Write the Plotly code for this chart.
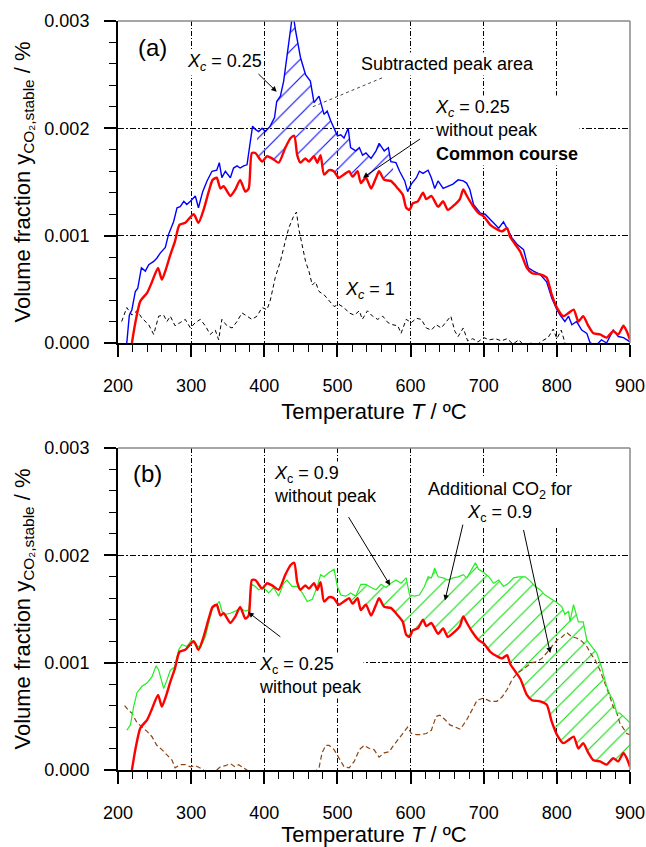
import numpy as np
import plotly.graph_objects as go

# ---------------- data ----------------
# common course: X_c = 0.25 without peak (red)
T_red = [219, 224, 230.5, 240, 246.5, 254.7, 260, 264.7, 271.5, 278, 284, 292, 303.5, 310, 317, 324, 329.4, 335,
         340, 344.5, 353.6, 360.4, 367, 374, 378.7, 383, 387.8, 397, 403.7, 410.6, 419.7, 428.8, 436, 441, 445,
         449.5, 456, 461, 468, 472.5, 477, 481.7, 488.5, 495, 502, 509, 516, 520.6, 527.5, 532, 539, 546, 552.8,
         557, 564, 573, 582.6, 589.4, 594, 598.6, 603, 610, 617, 621.5, 628.4, 637.6, 644.5, 651, 660.5, 667.4,
         672, 677, 684, 693, 700, 709, 718, 725, 732, 736, 743, 750, 759, 766, 777, 786, 793, 800, 809, 816, 823,
         829.5, 836, 843, 850, 859, 868, 877, 884, 891, 895.5, 900]
y_red = [0, 0.00020, 0.00039, 0.00047, 0.00057, 0.00070, 0.00059, 0.00067, 0.00082, 0.00095, 0.00110, 0.00112,
         0.00120, 0.00112, 0.00124, 0.00141, 0.00152, 0.00154, 0.00144, 0.00146, 0.00137, 0.00143, 0.00152,
         0.00141, 0.00144, 0.00177, 0.00177, 0.00169, 0.00174, 0.00172, 0.00168, 0.00182, 0.00191, 0.00193,
         0.00175, 0.00168, 0.00172, 0.00169, 0.00174, 0.00168, 0.00175, 0.00157, 0.00161, 0.00160, 0.00154,
         0.00157, 0.00160, 0.00155, 0.00160, 0.00149, 0.00154, 0.00144, 0.00154, 0.00160, 0.00152, 0.00151,
         0.00144, 0.00138, 0.00126, 0.00124, 0.00130, 0.00132, 0.00140, 0.00134, 0.00137, 0.00127, 0.00132,
         0.00124, 0.00129, 0.00134, 0.00143, 0.00137, 0.00129, 0.00121, 0.00118, 0.00110, 0.00106, 0.00104,
         0.00107, 0.00099, 0.00092, 0.00085, 0.00070, 0.00065, 0.00064, 0.00061, 0.00045, 0.00033, 0.00025,
         0.00028, 0.00031, 0.00020, 0.00025, 0.00016, 0.00009, 0.00008, 0.00005, 0.00011, 0.00008, 0.00016,
         0.00011, 0.00003]

# X_c = 0.25 (blue)
T_blue = [212, 215.5, 219, 223.7, 227, 232, 237.4, 242, 248.8, 253, 258, 264.7, 269, 276, 280.7, 285, 290, 294,
          299, 305.7, 310, 315.8, 321.7, 328.5, 335, 338.5, 342, 346.8, 353.6, 358, 362.7, 367, 371.8, 376.4,
          381, 384, 387.8, 392.3, 397, 401.5, 408, 414, 417, 422, 426.5, 431, 435.6, 439, 443, 449.5, 456.4,
          463, 468, 474.8, 481.7, 486, 490.8, 495.4, 500, 504.6, 509, 514.7, 518, 525, 530, 534.4, 539, 546,
          552.8, 557, 564, 569.7, 573, 580, 585, 592, 596, 601, 608, 612, 617, 624, 628.4, 633, 637.6, 644.5,
          651, 658, 665, 672, 676.6, 681, 686, 695.5, 702, 709, 716, 720.5, 727, 734, 738.6, 745.5, 754.5, 761,
          768, 777, 786, 793, 800, 804.5, 811, 816, 820.5, 827, 834, 841, 845.5, 854, 861, 868, 877, 884, 891,
          898, 900]
y_blue = [0, 0.00026, 0.00031, 0.00048, 0.00051, 0.00070, 0.00067, 0.00073, 0.00076, 0.00079, 0.00084, 0.00089,
          0.00101, 0.00113, 0.00126, 0.00127, 0.00132, 0.00129, 0.00132, 0.00137, 0.00126, 0.00141, 0.00151,
          0.00160, 0.00161, 0.00168, 0.00154, 0.00160, 0.00154, 0.00163, 0.00165, 0.00163, 0.00165, 0.00166,
          0.00188, 0.00202, 0.00199, 0.00197, 0.00200, 0.00197, 0.00202, 0.00210, 0.00225, 0.00230, 0.00244,
          0.00266, 0.00287, 0.00308, 0.00290, 0.00266, 0.00250, 0.00244, 0.00224, 0.00230, 0.00213, 0.00216,
          0.00207, 0.00200, 0.00193, 0.00194, 0.00191, 0.00200, 0.00182, 0.00179, 0.00182, 0.00175, 0.00177,
          0.00172, 0.00179, 0.00186, 0.00179, 0.00182, 0.00169, 0.00168, 0.00160, 0.00151, 0.00141, 0.00148,
          0.00154, 0.00160, 0.00158, 0.00161, 0.00154, 0.00144, 0.00151, 0.00144, 0.00146, 0.00148, 0.00152,
          0.00151, 0.00149, 0.00143, 0.00129, 0.00121, 0.00120, 0.00115, 0.00110, 0.00107, 0.00113, 0.00104,
          0.00098, 0.00092, 0.00087, 0.00070, 0.00067, 0.00064, 0.00057, 0.00042, 0.00031, 0.00026, 0.00020,
          0.00025, 0.00017, 0.00020, 0.00012, 0.00009, 0.0, -0.00002, 0.00003, 0.0, 0.00012, 0.00006, 0.00005,
          0.00002, 0.00001]

# X_c = 1 (black dashed)
T_x1 = [205, 212, 219, 226, 233, 242, 248.8, 255.6, 262.4, 267, 271.5, 278, 285, 292, 299, 305.7, 312.6, 319.4,
        326, 333, 337.6, 342, 349, 356, 362.7, 369.5, 376.4, 383, 390, 397, 403.7, 408.3, 415, 422, 428.8, 433.4,
        440, 444, 447, 452, 456.4, 461, 465.6, 470, 474.8, 481.7, 488.5, 495.4, 502, 509, 516, 523, 530, 534, 541,
        548, 555, 562, 569, 575.7, 582.6, 587, 594, 601, 608, 614.7, 621.5, 628.4, 635, 642, 649, 655, 660.5, 665,
        672, 678, 685, 692, 700, 708, 716, 724, 732, 740, 748, 756, 764, 772, 780, 788, 795, 800, 806, 812, 825]
y_x1 = [0.00020, 0.00033, 0.00026, 0.00030, 0.00023, 0.00017, 0.00008, 0.00025, 0.00026, 0.00020, 0.00025,
        0.00016, 0.00019, 0.00022, 0.00014, 0.00019, 0.00022, 0.00016, 0.00008, 0.00012, 0.00003, 0.00022,
        0.00016, 0.00014, 0.00020, 0.00028, 0.00025, 0.00022, 0.00025, 0.00033, 0.00031, 0.00040, 0.00061,
        0.00076, 0.00095, 0.00107, 0.00118, 0.00122, 0.00107, 0.00089, 0.00076, 0.00067, 0.00054, 0.00057,
        0.00048, 0.00045, 0.00039, 0.00034, 0.00036, 0.00033, 0.00028, 0.00026, 0.00030, 0.00022, 0.00030,
        0.00025, 0.00022, 0.00025, 0.00019, 0.00017, 0.00016, 0.00009, 0.00022, 0.00019, 0.00023, 0.00022,
        0.00014, 0.00012, 0.00017, 0.00014, 0.00020, 0.00025, 0.00011, 0.00006, 0.00014, 0.00002, 0.00004,
        0.00001, 0.00005, 0.00003, 0.00004, 0.00002, 0.00004, -0.00001, 0.00003, -0.00003, 0.0, -0.00002,
        0.00002, 0.00005, 0.00013, 0.00004, 0.00012, -0.00002, -0.0001]

# X_c = 0.9 without peak (green)
T_green = [212, 217, 221.4, 226, 232.8, 239.7, 246.5, 252, 255.6, 262.4, 267, 271.5, 277.5, 283, 287.5, 294, 300.3,
           305.7, 312.6, 319.4, 324, 329.4, 335, 338.5, 342, 346.8, 353.6, 360.4, 367, 374, 378.7, 383, 387.8,
           392.3, 399, 406, 412.8, 419.7, 426.5, 431, 438, 445, 452, 458.7, 465.6, 472.5, 477, 481.7, 488.5, 495.4,
           500, 504.6, 511.5, 518, 525, 532, 539, 546, 552.8, 559.6, 566.5, 573, 580, 587, 594, 598.6, 605.5, 612,
           619, 624, 628.4, 633, 637.6, 644.5, 651, 658, 665, 672, 677, 682, 688.6, 693, 700, 707, 713.6, 720.5,
           727, 734, 741, 747.7, 757, 763.6, 770.5, 777, 784, 793, 800, 807, 811, 816, 818, 822.7, 829.5, 836, 841,
           847.7, 854.5, 861, 868, 872.7, 877, 882, 886, 891, 895.5, 900]
y_green = [0.00037, 0.00042, 0.00059, 0.00072, 0.00078, 0.00081, 0.00087, 0.00097, 0.00093, 0.00076, 0.00084,
           0.00093, 0.00096, 0.00112, 0.00117, 0.00115, 0.00121, 0.00117, 0.00114, 0.00124, 0.00137, 0.00151,
           0.00154, 0.00157, 0.00148, 0.00145, 0.00146, 0.00148, 0.00151, 0.00148, 0.00149, 0.00173, 0.00171,
           0.00168, 0.00170, 0.00165, 0.00170, 0.00162, 0.00174, 0.00177, 0.00171, 0.00171, 0.00165, 0.00157,
           0.00159, 0.00171, 0.00182, 0.00180, 0.00184, 0.00187, 0.00171, 0.00163, 0.00162, 0.00165, 0.00162,
           0.00173, 0.00173, 0.00170, 0.00168, 0.00173, 0.00170, 0.00174, 0.00177, 0.00174, 0.00179, 0.00163,
           0.00162, 0.00163, 0.00171, 0.00180, 0.00179, 0.00188, 0.00180, 0.00179, 0.00177, 0.00179, 0.00180,
           0.00182, 0.00179, 0.00185, 0.00193, 0.00187, 0.00184, 0.00180, 0.00174, 0.00177, 0.00171, 0.00174,
           0.00179, 0.00180, 0.00180, 0.00176, 0.00171, 0.00168, 0.00163, 0.00159, 0.00156, 0.00152, 0.00145,
           0.00148, 0.00138, 0.00154, 0.00138, 0.00138, 0.00121, 0.00115, 0.00109, 0.00096, 0.00078, 0.00070,
           0.00065, 0.00053, 0.00053, 0.00050, 0.00047, 0.00044]

# difference curve (brown dashed)
T_brown = [209, 215, 219, 226, 232.8, 239.7, 246.5, 253, 260, 267, 274, 278, 285, 292, 299, 305.7, 315, 322, 330,
           340, 346.8, 353.6, 360, 365, 372, 377, 385, 400, 420, 440, 465, 474.8, 479, 484, 488.5, 495.4, 502, 509,
           516, 523, 530, 536.7, 543.6, 550, 557, 564, 571, 575.7, 582.6, 589.4, 596, 601, 608, 614.7, 621.5,
           628.4, 635, 640, 647, 653.7, 660.5, 668, 677, 684, 691, 700, 709, 718, 725, 732, 738.6, 745.5, 752, 759,
           766, 773, 779.5, 786, 793, 800, 807, 813.6, 820.5, 827, 834, 841, 847.7, 852, 859, 866, 872.7, 877, 882,
           886, 891, 895.5, 900]
y_brown = [0.00060, 0.00055, 0.00053, 0.00044, 0.00040, 0.00036, 0.00031, 0.00023, 0.00019, 0.00014, 0.00009,
           0.00002, 0.00005, 0.00005, 0.00003, 0.00004, 0.00001, -0.00003, -0.00003, 0.00003, 0.00004, 0.00006,
           0.00003, 0.00005, 0.00002, 0.0, -0.00004, -0.00006, -0.00008, -0.00006, -0.00004, 0.00002, 0.00016,
           0.00023, 0.00023, 0.00019, 0.00011, 0.00003, 0.00002, 0.00008, 0.00019, 0.00023, 0.00020, 0.00019,
           0.00012, 0.00016, 0.00017, 0.00022, 0.00028, 0.00034, 0.00040, 0.00034, 0.00033, 0.00033, 0.00034,
           0.00037, 0.00050, 0.00051, 0.00047, 0.00042, 0.00040, 0.00038, 0.00047, 0.00056, 0.00065, 0.00067,
           0.00064, 0.00064, 0.00068, 0.00075, 0.00084, 0.00090, 0.00093, 0.00096, 0.00100, 0.00101, 0.00104,
           0.00109, 0.00115, 0.00121, 0.00124, 0.00128, 0.00124, 0.00123, 0.00120, 0.00115, 0.00107, 0.00103,
           0.00093, 0.00081, 0.00068, 0.00059, 0.00053, 0.00044, 0.00039, 0.00034, 0.00033]

hatch_a = (390, 576)   # subtracted peak area range
hatch_b = (520, 900)   # additional CO2 range

FONT = "Arial, Liberation Sans, sans-serif"


def band(Tu, yu, Tl, yl, lo, hi):
    Tu, yu, Tl, yl = map(np.asarray, (Tu, yu, Tl, yl))
    mu = (Tu >= lo) & (Tu <= hi)
    ml = (Tl >= lo) & (Tl <= hi)
    xs = [lo] + list(Tu[mu]) + [hi, hi] + list(Tl[ml][::-1]) + [lo]
    ys = ([float(np.interp(lo, Tu, yu))] + list(yu[mu]) + [float(np.interp(hi, Tu, yu)),
          float(np.interp(hi, Tl, yl))] + list(yl[ml][::-1]) + [float(np.interp(lo, Tl, yl))])
    return xs, ys


fig = go.Figure()

# ---- panel (a) ----
hx, hy = band(T_blue, y_blue, T_red, y_red, *hatch_a)
fig.add_trace(go.Scatter(x=hx, y=hy, fill="toself", mode="lines", line=dict(width=0),
                         fillcolor="rgba(0,0,0,0)",
                         fillpattern=dict(shape="/", fgcolor="#1010ff", bgcolor="rgba(0,0,0,0)",
                                          size=13, solidity=0.09, fgopacity=1),
                         xaxis="x", yaxis="y", showlegend=False, hoverinfo="skip"))
fig.add_trace(go.Scatter(x=T_x1, y=y_x1, mode="lines", line=dict(color="black", width=1, dash="4px,3px"),
                         xaxis="x", yaxis="y", showlegend=False))
fig.add_trace(go.Scatter(x=T_blue, y=y_blue, mode="lines", line=dict(color="#0000ff", width=1.4),
                         xaxis="x", yaxis="y", showlegend=False))
fig.add_trace(go.Scatter(x=T_red, y=y_red, mode="lines", line=dict(color="#ff0000", width=2.4, shape="spline", smoothing=0.6),
                         xaxis="x", yaxis="y", showlegend=False))

# ---- panel (b) ----
gx, gy = band(T_green, y_green, T_red, y_red, *hatch_b)
fig.add_trace(go.Scatter(x=gx, y=gy, fill="toself", mode="lines", line=dict(width=0),
                         fillcolor="rgba(0,0,0,0)",
                         fillpattern=dict(shape="/", fgcolor="#11dd11", bgcolor="rgba(0,0,0,0)",
                                          size=13, solidity=0.09, fgopacity=1),
                         xaxis="x2", yaxis="y2", showlegend=False, hoverinfo="skip"))
fig.add_trace(go.Scatter(x=T_brown, y=y_brown, mode="lines", line=dict(color="#8b4513", width=1.2, dash="5px,3px"),
                         xaxis="x2", yaxis="y2", showlegend=False))
fig.add_trace(go.Scatter(x=T_green, y=y_green, mode="lines", line=dict(color="#22ee22", width=1.2),
                         xaxis="x2", yaxis="y2", showlegend=False))
fig.add_trace(go.Scatter(x=T_red, y=y_red, mode="lines", line=dict(color="#ff0000", width=2.4, shape="spline", smoothing=0.6),
                         xaxis="x2", yaxis="y2", showlegend=False))


def xaxis_cfg(anchor):
    return dict(anchor=anchor, domain=[0, 1], range=[200, 900], tick0=200, dtick=100,
                ticks="outside", ticklen=12, tickwidth=1.5, tickcolor="black",
                showline=True, linewidth=2, linecolor="black",
                showgrid=True, gridcolor="black", gridwidth=1, griddash="5px,2px,1px,2px",
                zeroline=False, automargin=False,
                minor=dict(dtick=20, ticks="outside", ticklen=7, tickwidth=1.2, tickcolor="black", showgrid=False),
                tickfont=dict(size=18, color="black", family=FONT), ticklabelstandoff=13,
                title=dict(text="Temperature <i>T</i> / ºC", font=dict(size=22, color="black", family=FONT), standoff=9))


def yaxis_cfg(anchor, dom):
    return dict(anchor=anchor, domain=dom, range=[0, 0.003], tick0=0, dtick=0.001, tickformat=".3f",
                ticks="outside", ticklen=12, tickwidth=1.5, tickcolor="black",
                showline=True, linewidth=2, linecolor="black",
                showgrid=True, gridcolor="black", gridwidth=1, griddash="6px,2px,2px,2px",
                zeroline=False, automargin=False,
                minor=dict(dtick=0.0002, ticks="outside", ticklen=7, tickwidth=1.2, tickcolor="black", showgrid=False),
                tickfont=dict(size=18, color="black", family=FONT), ticklabelstandoff=11,
                title=dict(text="Volume fraction y<sub>CO₂,stable</sub> / %",
                           font=dict(size=22, color="black", family=FONT), standoff=8))


fig.update_layout(
    width=646, height=847, margin=dict(l=118, r=16, t=21, b=77),
    paper_bgcolor="white", plot_bgcolor="white",
    font=dict(family=FONT, color="black"),
    xaxis=xaxis_cfg("y"), yaxis=yaxis_cfg("x", [0.5701, 1.0]),
    xaxis2=xaxis_cfg("y2"), yaxis2=yaxis_cfg("x2", [0.0, 0.4299]),
)

# frames (top / right edges, grey)
shapes = []
for xr, yr in (("x domain", "y domain"), ("x2 domain", "y2 domain")):
    shapes.append(dict(type="line", xref=xr, yref=yr, x0=0, x1=1, y0=1, y1=1,
                       line=dict(color="#888888", width=1.5), layer="above"))
    shapes.append(dict(type="line", xref=xr, yref=yr, x0=1, x1=1, y0=0, y1=1,
                       line=dict(color="#888888", width=1.5), layer="above"))
# dotted leader of "Subtracted peak area"
shapes.append(dict(type="line", xref="x", yref="y", x0=561, y0=0.00247, x1=466, y1=0.00220,
                   line=dict(color="#444444", width=1, dash="dot"), layer="above"))
fig.update_layout(shapes=shapes)

ann = []


def text(x, y, t, xr="x", yr="y", xanchor="center", align="center", size=18, bg="white"):
    ann.append(dict(x=x, y=y, xref=xr, yref=yr, text=t, showarrow=False, xanchor=xanchor, yanchor="middle",
                    align=align, font=dict(size=size, color="black", family=FONT), bgcolor=bg, borderpad=1))


def arrow(x0, y0, x1, y1, xr="x", yr="y"):
    ann.append(dict(x=x1, y=y1, ax=x0, ay=y0, xref=xr, yref=yr, axref=xr, ayref=yr, text="",
                    showarrow=True, arrowhead=2, arrowsize=1.1, arrowwidth=1, arrowcolor="black"))


# panel (a)
text(246.5, 0.00275, "(a)", size=24, bg=None)
text(346, 0.00261, "<i>X</i><sub><i>c</i></sub> = 0.25")
arrow(390, 0.00252, 417, 0.00234)
text(650, 0.00260, "Subtracted peak area")
text(630, 0.00198, "<i>X</i><sub><i>c</i></sub> = 0.25<br>without peak<br><b>Common course</b>",
     xanchor="left", align="left")
arrow(615, 0.00191, 535, 0.00154)
text(507, 0.00049, "<i>X</i><sub><i>c</i></sub> = 1", xanchor="left")

# panel (b)
text(241, 0.00276, "(b)", xr="x2", yr="y2", size=24, bg=None)
text(410, 0.00266, "<i>X</i><sub>c</sub> = 0.9<br>without peak", xr="x2", yr="y2", xanchor="left", align="left")
arrow(514, 0.00237, 572, 0.00172, xr="x2", yr="y2")
text(390, 0.00088, "<i>X</i><sub>c</sub> = 0.25<br>without peak", xr="x2", yr="y2", xanchor="left", align="left")
arrow(424, 0.00123, 378, 0.00147, xr="x2", yr="y2")
text(722, 0.00250, "Additional CO<sub>2</sub> for<br><i>X</i><sub>c</sub> = 0.9", xr="x2", yr="y2")
arrow(672, 0.00230, 647, 0.00158, xr="x2", yr="y2")
arrow(754, 0.00225, 791, 0.00109, xr="x2", yr="y2")

fig.update_layout(annotations=ann)

fig.write_html("out.html")
